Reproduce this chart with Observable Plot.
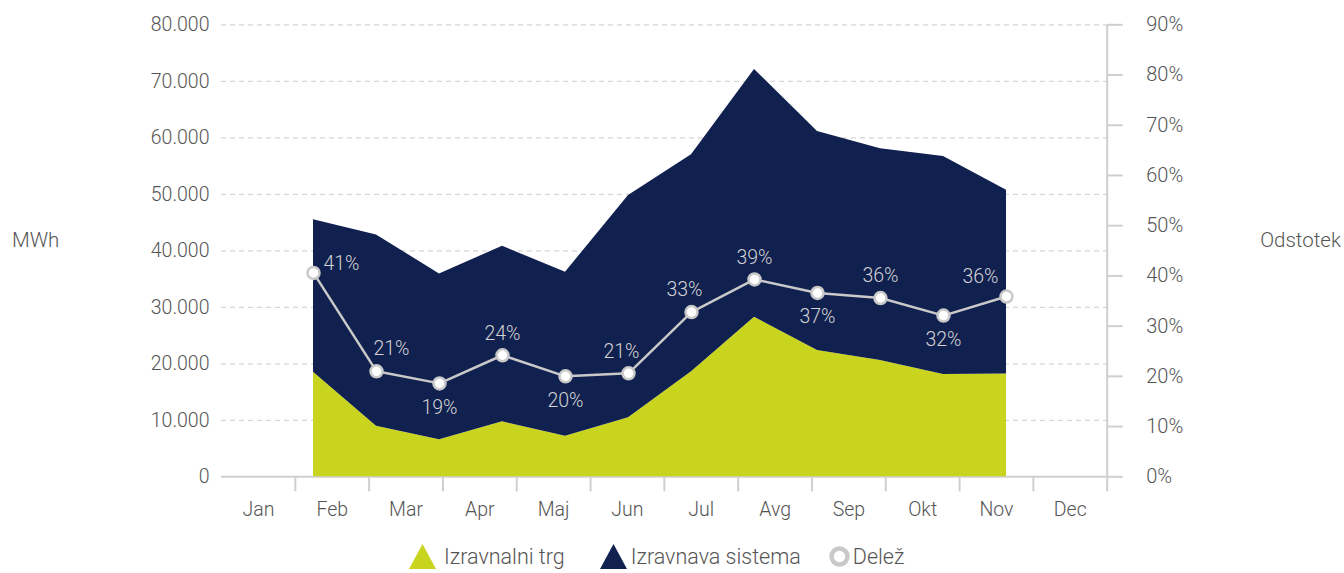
<!DOCTYPE html>
<html><head><meta charset="utf-8">
<script src="https://cdn.jsdelivr.net/npm/d3@7"></script>
<script src="https://cdn.jsdelivr.net/npm/@observablehq/plot@0.6"></script>
<style>
body{margin:0;background:#fff;font-family:Roboto,sans-serif;}
#wrap{position:relative;width:1344px;height:573px;overflow:hidden;}
#wrap svg.plotlayer{position:absolute;left:0;top:0;}
.ttl{position:absolute;font-size:20.5px;font-weight:300;color:#555;line-height:1;}
#legend{position:absolute;left:409px;top:544px;display:flex;align-items:center;font-size:21.5px;font-weight:300;color:#555;line-height:1;}
#legend .it{display:flex;align-items:center;}
</style></head><body><div id="wrap"></div>
<script>
// ---- data ----
const months = ["Jan","Feb","Mar","Apr","Maj","Jun","Jul","Avg","Sep","Okt","Nov","Dec"];
const izravnalniTrg = [18500, 8960, 6550, 9730, 7190, 10440, 18600, 28250, 22350, 20600, 18100, 18200];
const izravnavaSistema = [27000, 33840, 29350, 31070, 29010, 39360, 38400, 43850, 38750, 37450, 38600, 32500];
const delez = [40.6, 21.0, 18.6, 24.2, 20.0, 20.6, 32.8, 39.3, 36.6, 35.6, 32.1, 35.9];
const seriesNames = ["Izravnalni trg", "Izravnava sistema", "Delež"];
const yTicks = [0, 10000, 20000, 30000, 40000, 50000, 60000, 70000, 80000];
const pctTicks = [0, 10, 20, 30, 40, 50, 60, 70, 80, 90];

// ---- styling ----
const FONT = "Roboto, sans-serif";
const GREEN = "#c9d41f", NAVY = "#10204f", LINEGRAY = "#c9c9c9", AXISGRAY = "#cfcfcf", TEXT = "#555";
const W = 1344, H = 530, MT = 24.3, MB = 53.7, ML = 221, MR = 237.3;
const dataRange = [312, 1006];

const loc = d3.formatLocale({decimal: ",", thousands: ".", grouping: [3], currency: ["", ""]});
const fmtN = loc.format(",");

const areaData = [];
months.forEach((m, i) => {
  areaData.push({month: m, series: seriesNames[0], value: izravnalniTrg[i]});
  areaData.push({month: m, series: seriesNames[1], value: izravnavaSistema[i]});
});
const pctData = months.map((m, i) => ({month: m, i, value: delez[i], label: Math.round(delez[i]) + "%"}));
const labelPos = ["right","aboveRight","below","above","below","aboveL","aboveL","above","below","above","below","left"];
const offsets = {right:[28,-9], aboveRight:[15,-23], above:[0,-22], aboveL:[-7,-22], below:[0,24], left:[-26,-20]};

const wrap = document.getElementById("wrap");

// Layer 1: grid and axes
const axes = Plot.plot({
  width: W, height: H, marginTop: MT, marginBottom: MB, marginLeft: ML, marginRight: MR,
  style: {fontFamily: FONT, fontSize: "19px", fontWeight: 300, color: TEXT, background: "transparent"},
  x: {type: "linear", domain: [0, 12]},
  y: {domain: [0, 80000]},
  marks: [
    Plot.gridY(yTicks.filter(d => d > 0), {stroke: "#d6d6d6", strokeOpacity: 1, strokeDasharray: "5,4", strokeWidth: 1.2}),
    Plot.axisY({ticks: yTicks, tickFormat: fmtN, tickSize: 0, tickPadding: 12, label: null, fontSize: 19.5, fill: TEXT}),
    Plot.ruleY([0], {stroke: AXISGRAY, strokeWidth: 2}),
    Plot.ruleX([12], {stroke: AXISGRAY, strokeWidth: 2}),
    Plot.axisX({ticks: d3.range(1, 13), tickSize: 15, tickFormat: () => "", stroke: AXISGRAY, strokeWidth: 2, label: null}),
    Plot.axisX({ticks: d3.range(0.5, 12, 1), tickSize: 0, tickPadding: 25, tickFormat: d => months[Math.floor(d)], label: null, fontSize: 19.5, fill: TEXT})
  ]
});
axes.classList.add("plotlayer");
wrap.appendChild(axes);

// Layer 2: stacked areas
const areas = Plot.plot({
  width: W, height: H, marginTop: MT, marginBottom: MB, marginLeft: ML, marginRight: MR,
  style: {fontFamily: FONT, background: "transparent"},
  x: {type: "point", domain: months, range: dataRange, padding: 0, axis: null},
  y: {domain: [0, 80000], axis: null},
  color: {domain: seriesNames.slice(0, 2), range: [GREEN, NAVY]},
  marks: [
    Plot.areaY(areaData, {x: "month", y: "value", fill: "series", order: seriesNames.slice(0, 2), curve: "linear"})
  ]
});
areas.classList.add("plotlayer");
wrap.appendChild(areas);

// Layer 3: share line + right axis
const pctMarks = [
  Plot.axisY({anchor: "right", ticks: pctTicks, tickSize: 15, tickPadding: 24, tickFormat: d => d + "%", stroke: AXISGRAY, strokeWidth: 2, label: null, fontSize: 20, fill: TEXT}),
  Plot.line(pctData, {x: "month", y: "value", stroke: LINEGRAY, strokeWidth: 2.5}),
  Plot.dot(pctData, {x: "month", y: "value", r: 6, fill: "white", stroke: LINEGRAY, strokeWidth: 2.5})
];
Object.entries(offsets).forEach(([k, [dx, dy]]) => {
  pctMarks.push(Plot.text(pctData, {filter: d => labelPos[d.i] === k, x: "month", y: "value", text: "label", dx, dy, fill: "#d2d2d2", fontSize: 19.5}));
});
const pct = Plot.plot({
  width: W, height: H, marginTop: MT, marginBottom: MB, marginLeft: ML, marginRight: MR,
  style: {fontFamily: FONT, fontSize: "19px", fontWeight: 300, color: TEXT, background: "transparent"},
  x: {type: "point", domain: months, range: dataRange, padding: 0, axis: null},
  y: {domain: [0, 90], axis: null},
  marks: pctMarks
});
pct.classList.add("plotlayer");
wrap.appendChild(pct);

// Axis titles
const t1 = document.createElement("div"); t1.className = "ttl"; t1.textContent = "MWh"; t1.style.left = "12px"; t1.style.top = "230px"; wrap.appendChild(t1);
const t2 = document.createElement("div"); t2.className = "ttl"; t2.textContent = "Odstotek"; t2.style.right = "3px"; t2.style.top = "230px"; wrap.appendChild(t2);

// Legend
const lg = document.createElement("div"); lg.id = "legend";
const tri = c => `<svg width="27" height="25" style="display:block"><polygon points="0,25 13.5,0 27,25" fill="${c}"/></svg>`;
const ring = `<svg width="21" height="21" style="display:block"><circle cx="10.5" cy="10.5" r="8" fill="white" stroke="${LINEGRAY}" stroke-width="4.5"/></svg>`;
lg.innerHTML = `<div class="it">${tri(GREEN)}<span style="margin-left:8px">${seriesNames[0]}</span></div>` +
  `<div class="it" style="margin-left:35px">${tri(NAVY)}<span style="margin-left:4px">${seriesNames[1]}</span></div>` +
  `<div class="it" style="margin-left:28px">${ring}<span style="margin-left:3px">${seriesNames[2]}</span></div>`;
wrap.appendChild(lg);
</script></body></html>
